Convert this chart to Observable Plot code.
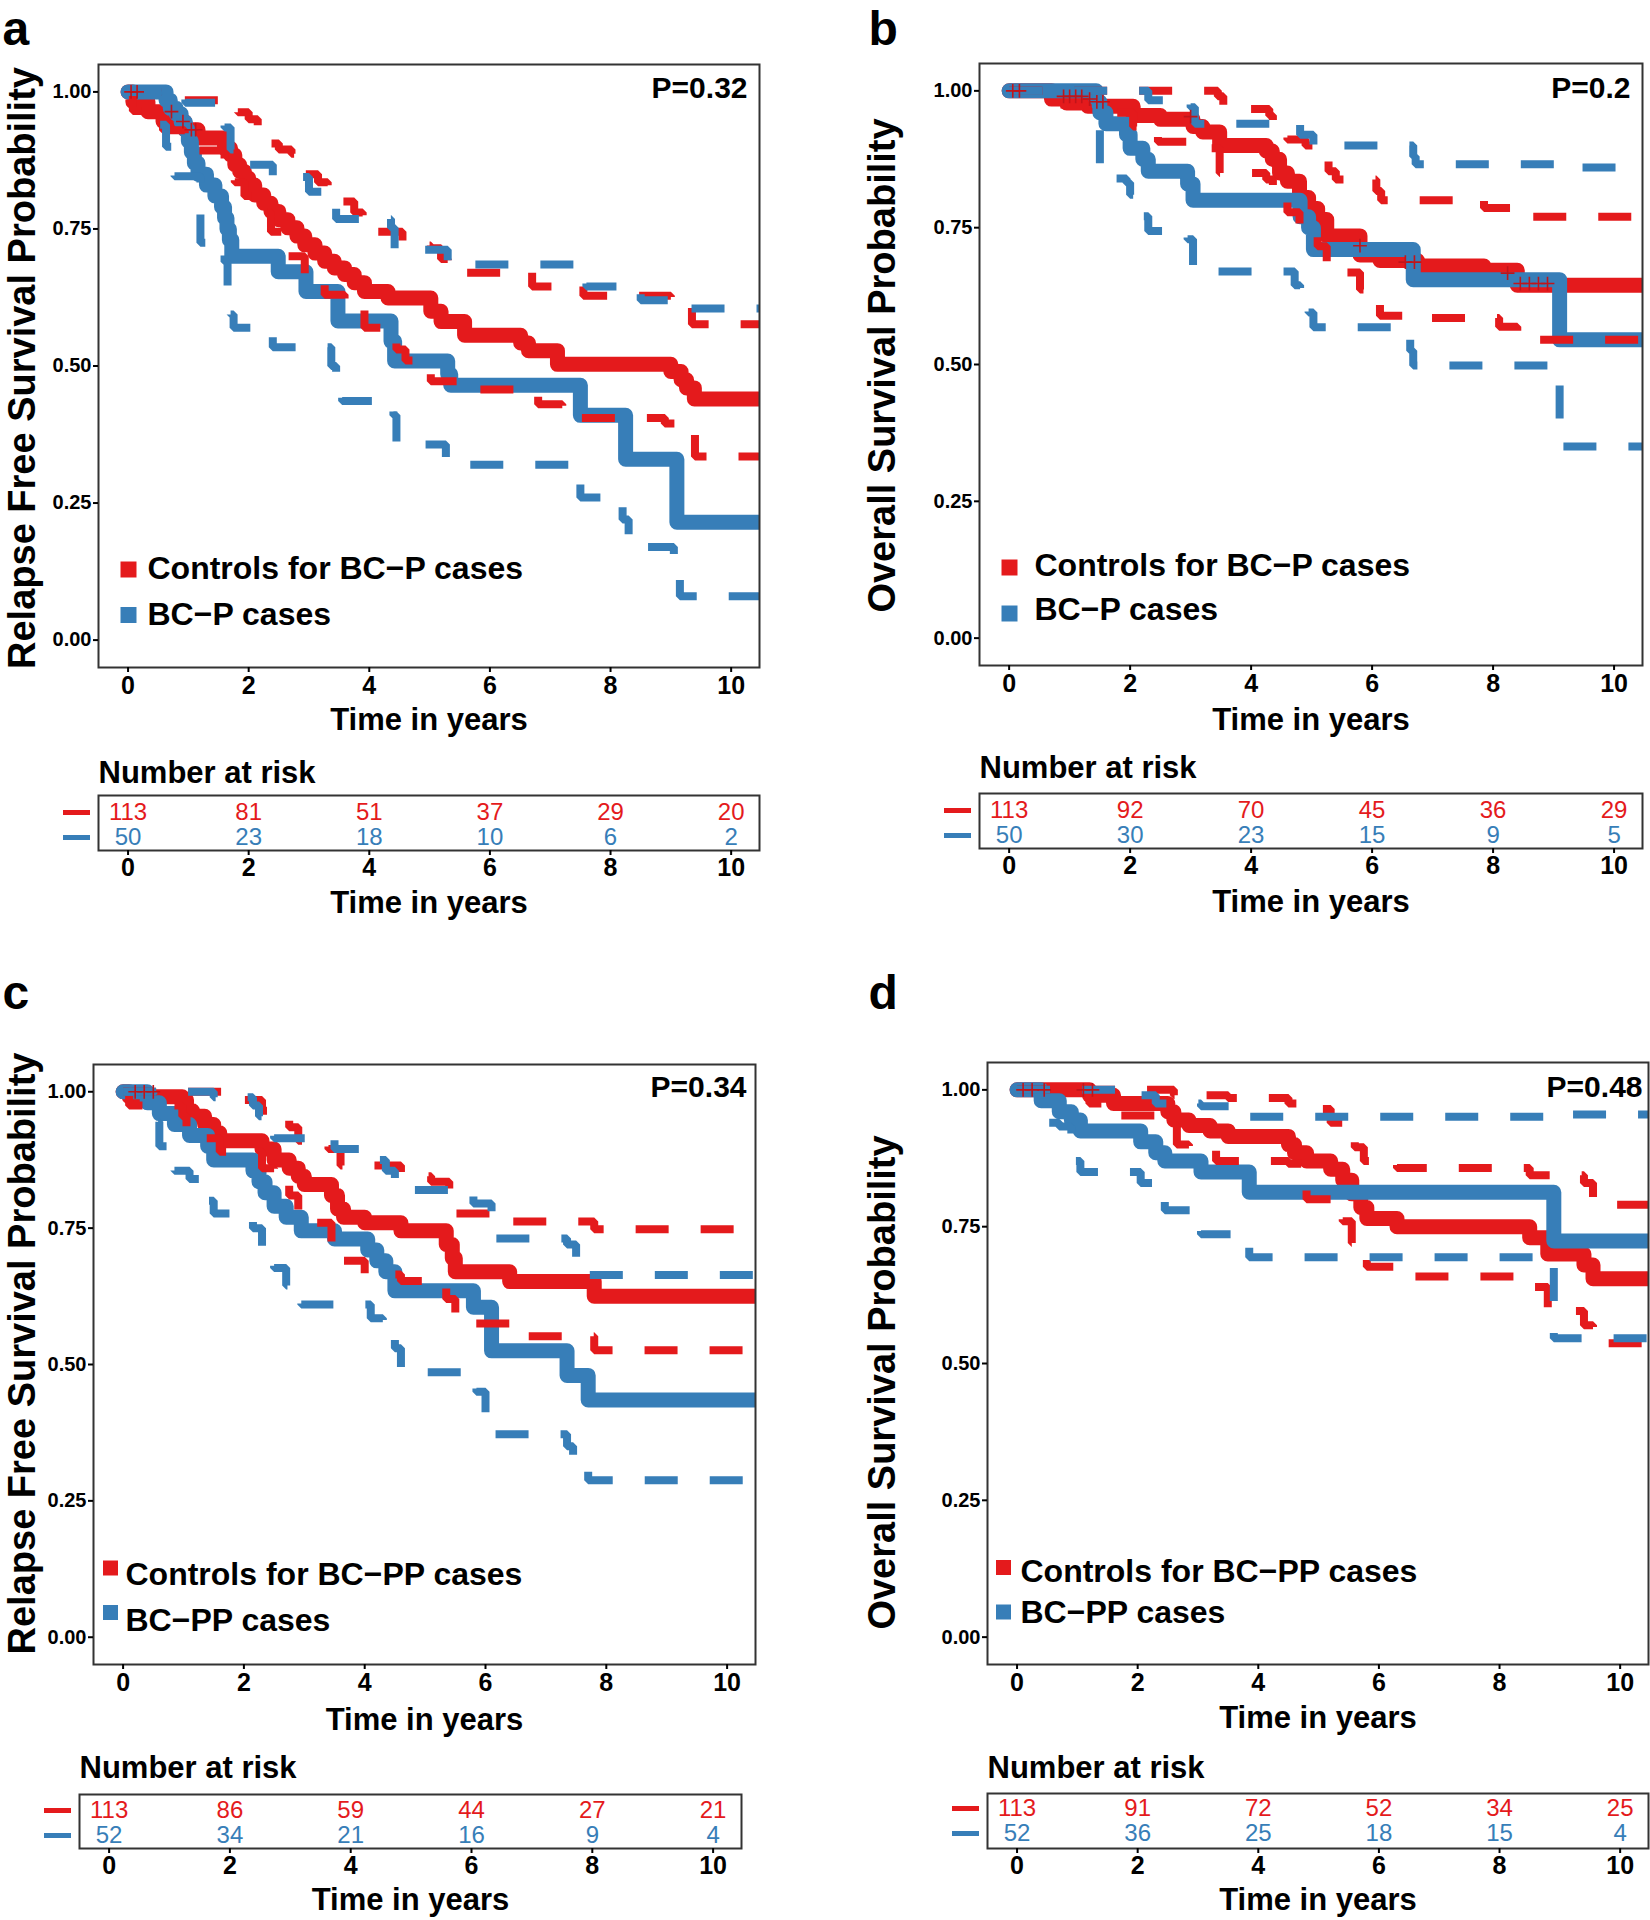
<!DOCTYPE html>
<html>
<head>
<meta charset="utf-8">
<script src="https://cdn.jsdelivr.net/npm/d3@7"></script>
<script src="https://cdn.jsdelivr.net/npm/@observablehq/plot@0.6"></script>
<style>
  body { margin: 0; background: #fff; }
  #root { position: relative; width: 1650px; height: 1920px; background: #fff; overflow: hidden; }
  #root > svg { position: absolute; }
</style>
</head>
<body>
<div id="root"></div>
<script>
// ---------------- DATA ----------------
const xTicks = [0, 2, 4, 6, 8, 10];
const yTicks = [0, 0.25, 0.5, 0.75, 1];
const riskTimes = [0, 2, 4, 6, 8, 10];

// Panel a: relapse-free survival, controls vs BC-P cases  [time, survival]
const aCtrlEst = [[0,1],[0.08,0.982],[0.33,0.964],[0.58,0.946],[0.94,0.931],[1.16,0.916],[1.6,0.897],[1.7,0.885],[1.77,0.867],[1.85,0.855],[1.93,0.843],[2.0,0.83],[2.1,0.812],[2.25,0.797],[2.37,0.782],[2.5,0.767],[2.65,0.752],[2.8,0.737],[2.93,0.721],[3.1,0.706],[3.26,0.691],[3.42,0.679],[3.59,0.667],[3.75,0.652],[3.92,0.636],[4.31,0.624],[5.02,0.6],[5.19,0.581],[5.58,0.556],[6.51,0.542],[6.64,0.528],[7.12,0.503],[9.0,0.49],[9.17,0.475],[9.26,0.46],[9.39,0.44],[10.6,0.44]];
const aCtrlHi  = [[0,1],[0.91,0.985],[1.82,0.963],[2.0,0.95],[2.15,0.939],[2.29,0.906],[2.5,0.895],[2.71,0.887],[2.93,0.85],[3.15,0.835],[3.31,0.82],[3.55,0.8],[3.75,0.78],[3.89,0.765],[4.11,0.745],[4.55,0.72],[5.02,0.715],[5.19,0.695],[5.3,0.68],[5.58,0.67],[6.7,0.645],[7.55,0.628],[9.0,0.62],[9.35,0.576],[10.6,0.576]];
const aCtrlLo  = [[0,1],[0.08,0.965],[0.33,0.95],[0.58,0.93],[0.94,0.91],[1.16,0.893],[1.6,0.865],[1.77,0.835],[1.93,0.81],[2.1,0.78],[2.37,0.745],[2.65,0.7],[2.93,0.665],[3.26,0.63],[3.59,0.605],[3.92,0.57],[4.31,0.545],[4.45,0.53],[4.6,0.51],[5.02,0.472],[5.58,0.457],[6.8,0.43],[7.2,0.405],[8.9,0.395],[9.2,0.377],[9.4,0.335],[10.6,0.335]];
const aCaseEst = [[0,1],[0.63,0.985],[0.7,0.97],[0.8,0.96],[0.88,0.945],[0.95,0.93],[1.0,0.91],[1.05,0.89],[1.1,0.87],[1.16,0.85],[1.3,0.83],[1.44,0.81],[1.55,0.79],[1.6,0.77],[1.64,0.75],[1.68,0.73],[1.72,0.7],[2.49,0.672],[2.95,0.636],[3.48,0.582],[4.36,0.545],[4.42,0.509],[5.3,0.485],[5.35,0.465],[7.5,0.41],[8.25,0.33],[9.1,0.215],[10.6,0.215]];
const aCaseHi  = [[0,1],[0.95,0.98],[1.6,0.935],[1.7,0.895],[2.0,0.867],[2.4,0.845],[3.0,0.818],[3.45,0.768],[4.36,0.752],[4.42,0.712],[5.3,0.685],[7.6,0.645],[8.5,0.62],[9.2,0.605],[10.6,0.605]];
const aCaseLo  = [[0,1],[0.5,0.94],[0.63,0.9],[0.77,0.846],[1.2,0.725],[1.6,0.69],[1.65,0.643],[1.7,0.594],[1.75,0.57],[2.4,0.534],[3.37,0.5],[3.45,0.475],[3.55,0.436],[4.4,0.41],[4.45,0.357],[5.27,0.32],[7.5,0.26],[8.2,0.22],[8.3,0.17],[9.05,0.15],[9.15,0.08],[10.6,0.08]];
const aCensor  = [[0.05,1],[0.15,1],[0.72,0.964],[0.91,0.946],[1.05,0.931],[1.12,0.931]];

// Panel b: overall survival, controls vs BC-P cases
const bCtrlEst = [[0,1],[0.7,0.985],[0.95,0.978],[1.3,0.972],[2.05,0.955],[2.5,0.948],[3.04,0.935],[3.2,0.925],[3.48,0.9],[4.25,0.89],[4.35,0.875],[4.47,0.85],[4.6,0.835],[4.8,0.805],[4.95,0.785],[5.1,0.765],[5.25,0.735],[5.8,0.7],[6.13,0.69],[6.75,0.68],[7.85,0.672],[8.4,0.645],[10.6,0.645]];
const bCtrlHi  = [[0,1],[3.45,0.99],[3.54,0.967],[4.3,0.955],[4.36,0.941],[4.6,0.911],[4.9,0.9],[5.03,0.893],[5.28,0.853],[5.4,0.838],[6.07,0.817],[6.15,0.8],[7.85,0.786],[8.4,0.77],[10.6,0.77]];
const bCtrlLo  = [[0,1],[0.7,0.975],[1.3,0.96],[2.05,0.935],[2.46,0.907],[3.2,0.895],[3.48,0.85],[4.25,0.838],[4.36,0.817],[4.6,0.778],[4.8,0.735],[5.1,0.716],[5.25,0.668],[5.8,0.637],[5.9,0.616],[6.13,0.589],[6.75,0.585],[8.1,0.569],[8.4,0.545],[10.6,0.545]];
const bCaseEst = [[0,1],[1.44,0.98],[1.5,0.96],[1.6,0.94],[1.94,0.92],[2.0,0.895],[2.21,0.875],[2.3,0.853],[2.95,0.83],[3.04,0.8],[4.81,0.77],[4.95,0.75],[5.03,0.71],[6.68,0.655],[9.1,0.545],[10.6,0.545]];
const bCaseHi  = [[0,1],[2.3,0.983],[3.0,0.97],[3.07,0.94],[4.81,0.92],[5.03,0.9],[6.68,0.88],[6.72,0.866],[9.1,0.86],[10.6,0.86]];
const bCaseLo  = [[0,1],[1.44,0.94],[1.5,0.865],[1.6,0.84],[1.94,0.832],[2.0,0.81],[2.21,0.771],[2.3,0.744],[2.95,0.729],[3.04,0.67],[4.72,0.645],[4.81,0.619],[4.95,0.595],[5.03,0.568],[6.63,0.525],[6.68,0.498],[9.1,0.4],[9.15,0.35],[10.6,0.35]];
const bCensor  = [[0.06,1],[0.17,1],[0.9,0.99],[1.0,0.99],[1.1,0.99],[1.2,0.99],[1.33,0.985],[1.45,0.98],[1.55,0.98],[3.0,0.953],[5.8,0.717],[6.55,0.687],[6.7,0.687],[8.24,0.667],[8.45,0.648],[8.6,0.648],[8.75,0.648],[8.9,0.648]];

// Panel c: relapse-free survival, controls vs BC-PP cases
const cCtrlEst = [[0,1],[0.1,0.991],[0.98,0.985],[1.05,0.965],[1.15,0.955],[1.35,0.94],[1.5,0.925],[1.6,0.91],[2.3,0.895],[2.5,0.875],[2.75,0.86],[2.9,0.845],[3.0,0.83],[3.45,0.81],[3.55,0.785],[3.65,0.77],[4.0,0.76],[4.6,0.745],[5.35,0.72],[5.45,0.695],[5.5,0.67],[6.4,0.652],[7.8,0.625],[10.6,0.625]];
const cCtrlHi  = [[0,1],[2.0,0.985],[2.3,0.965],[2.5,0.95],[2.75,0.935],[2.9,0.91],[3.4,0.895],[3.6,0.865],[4.6,0.845],[5.1,0.835],[5.4,0.81],[5.5,0.777],[6.4,0.762],[7.8,0.748],[10.6,0.748]];
const cCtrlLo  = [[0,1],[0.1,0.975],[0.98,0.955],[1.05,0.93],[1.35,0.915],[1.6,0.89],[2.3,0.86],[2.5,0.84],[2.75,0.81],[2.9,0.78],[3.0,0.76],[3.45,0.72],[3.55,0.69],[4.0,0.665],[4.6,0.653],[5.35,0.62],[5.5,0.575],[6.4,0.552],[7.8,0.526],[10.6,0.526]];
const cCaseEst = [[0,1],[0.4,0.98],[0.6,0.96],[0.85,0.94],[1.1,0.92],[1.4,0.9],[1.5,0.875],[2.15,0.855],[2.25,0.835],[2.35,0.815],[2.5,0.79],[2.7,0.77],[2.95,0.745],[3.5,0.73],[4.05,0.71],[4.2,0.69],[4.35,0.67],[4.5,0.635],[5.8,0.605],[6.1,0.525],[7.35,0.48],[7.7,0.435],[10.6,0.435]];
const cCaseHi  = [[0,1],[1.5,0.99],[2.15,0.975],[2.25,0.955],[2.5,0.915],[3.5,0.895],[4.2,0.875],[4.35,0.855],[4.5,0.82],[5.8,0.795],[6.1,0.731],[7.35,0.72],[7.5,0.695],[7.7,0.664],[10.6,0.664]];
const cCaseLo  = [[0,1],[0.5,0.945],[0.6,0.9],[0.85,0.855],[1.1,0.84],[1.4,0.8],[1.5,0.777],[2.15,0.75],[2.3,0.71],[2.5,0.677],[2.7,0.645],[2.95,0.61],[4.1,0.585],[4.3,0.564],[4.5,0.53],[4.6,0.486],[5.85,0.45],[6.0,0.405],[6.1,0.372],[7.35,0.35],[7.45,0.325],[7.7,0.288],[10.6,0.288]];
const cCensor  = [[0.2,1],[0.35,1],[0.5,1]];

// Panel d: overall survival, controls vs BC-PP cases
const dCtrlEst = [[0,1],[1.2,0.99],[1.6,0.975],[2.5,0.96],[2.6,0.945],[2.85,0.935],[3.2,0.925],[3.5,0.915],[4.5,0.9],[4.6,0.885],[4.8,0.87],[5.2,0.855],[5.4,0.835],[5.55,0.81],[5.7,0.785],[5.8,0.765],[6.3,0.75],[8.5,0.73],[8.8,0.7],[9.4,0.68],[9.55,0.655],[10.6,0.655]];
const dCtrlHi  = [[0,1],[2.6,0.99],[3.5,0.985],[4.5,0.975],[4.8,0.965],[5.2,0.94],[5.5,0.93],[5.6,0.895],[5.75,0.87],[6.3,0.857],[8.5,0.844],[9.4,0.83],[9.55,0.79],[10.6,0.79]];
const dCtrlLo  = [[0,1],[1.2,0.975],[1.6,0.953],[2.5,0.935],[2.65,0.9],[2.85,0.89],[3.3,0.87],[4.5,0.865],[4.75,0.845],[4.8,0.8],[5.4,0.76],[5.55,0.72],[5.8,0.677],[6.3,0.659],[8.5,0.64],[8.8,0.596],[9.4,0.57],[9.55,0.537],[10.6,0.537]];
const dCaseEst = [[0,1],[0.4,0.98],[0.7,0.96],[0.9,0.945],[1.05,0.925],[2.05,0.905],[2.3,0.885],[2.45,0.87],[3.05,0.85],[3.85,0.813],[8.9,0.724],[10.6,0.724]];
const dCaseHi  = [[0,1],[2.05,0.99],[2.3,0.975],[3.05,0.97],[3.85,0.951],[8.9,0.955],[10.6,0.955]];
const dCaseLo  = [[0,1],[0.4,0.94],[0.7,0.933],[0.9,0.87],[1.05,0.85],[2.05,0.83],[2.3,0.81],[2.45,0.78],[3.05,0.736],[3.85,0.694],[8.9,0.546],[10.6,0.546]];
const dCensor  = [[0.1,1],[0.25,1],[0.45,1],[1.1,1],[1.25,1]];

// Number at risk
const aRiskCtrl = [113, 81, 51, 37, 29, 20], aRiskCase = [50, 23, 18, 10, 6, 2];
const bRiskCtrl = [113, 92, 70, 45, 36, 29], bRiskCase = [50, 30, 23, 15, 9, 5];
const cRiskCtrl = [113, 86, 59, 44, 27, 21], cRiskCase = [52, 34, 21, 16, 9, 4];
const dRiskCtrl = [113, 91, 72, 52, 34, 25], dRiskCase = [52, 36, 25, 18, 15, 4];

// Labels
const groupsP  = ["Controls for BC\u2212P cases", "BC\u2212P cases"];
const groupsPP = ["Controls for BC\u2212PP cases", "BC\u2212PP cases"];
const pValues = ["P=0.32", "P=0.2", "P=0.34", "P=0.48"];
const yTitles = ["Relapse Free Survival Probability", "Overall Survival Probability", "Relapse Free Survival Probability", "Overall Survival Probability"];
const panelLetters = ["a", "b", "c", "d"];
const xTitle = "Time in years";
const riskTitle = "Number at risk";

// ---------------- STYLE / LAYOUT ----------------
const RED = "#E41A1C", BLUE = "#377EB8", CENSOR = "#C0141A";
const FONT = "'Liberation Sans', Arial, Helvetica, sans-serif";
const xDomain = [-0.49, 10.47];
const yDomain = [-0.05, 1.05];

const layout = [
  { left: 0,   top: 0,   w: 825, h: 750, mL: 98,  mR: 66, mT: 64,  mB: 83,
    yDx: -76, yDy: 2,  xDy: 53, pDx: -12, pDy: 12, letDx: -96, letDy: -20, letFs: 48,
    leg: [{sdx: 30, sdy: -98, tdx: 49, tdy: -99, s: 16}, {sdx: 30, sdy: -52.5, tdx: 49, tdy: -53, s: 16}],
    risk: { left: 0, top: 740, h: 180, mL: 98, mR: 66, mT: 55, mB: 70, iT: 17, iB: 13, tDy: -22, xDy: 53 } },
  { left: 825, top: 0,   w: 825, h: 750, mL: 154, mR: 8,  mT: 63,  mB: 85,
    yDx: -97, yDy: 1,  xDy: 55, pDx: -12, pDy: 13, letDx: -111, letDy: -19, letFs: 48,
    leg: [{sdx: 30, sdy: -98, tdx: 55, tdy: -100, s: 16}, {sdx: 30, sdy: -52, tdx: 55, tdy: -56, s: 16}],
    risk: { left: 825, top: 740, h: 180, mL: 154, mR: 8, mT: 53, mB: 72, iT: 17, iB: 13, tDy: -25, xDy: 54 } },
  { left: 0,   top: 960, w: 825, h: 790, mL: 93,  mR: 70, mT: 104, mB: 86,
    yDx: -71, yDy: -11, xDy: 56, pDx: -9, pDy: 11, letDx: -91, letDy: -56, letFs: 48,
    leg: [{sdx: 17, sdy: -96.5, tdx: 32, tdy: -89.5, s: 15}, {sdx: 17, sdy: -52, tdx: 32, tdy: -43.5, s: 15}],
    risk: { left: 0, top: 1740, h: 180, mL: 79, mR: 84, mT: 54, mB: 72, iT: 16, iB: 13, tDy: -26, xDy: 52 } },
  { left: 825, top: 960, w: 825, h: 790, mL: 162, mR: 2,  mT: 102, mB: 86,
    yDx: -105, yDy: 19, xDy: 54, pDx: -6, pDy: 13, letDx: -119, letDy: -54, letFs: 48,
    leg: [{sdx: 16, sdy: -97, tdx: 33, tdy: -93, s: 15}, {sdx: 16, sdy: -52.5, tdx: 33, tdy: -51.5, s: 15}],
    risk: { left: 825, top: 1740, h: 180, mL: 162, mR: 2, mT: 53, mB: 72, iT: 15, iB: 15, tDy: -25.5, xDy: 52 } }
];

const panelData = [
  { ctrl: [aCtrlEst, aCtrlLo, aCtrlHi], kase: [aCaseEst, aCaseLo, aCaseHi], censor: aCensor, groups: groupsP,  riskCtrl: aRiskCtrl, riskCase: aRiskCase },
  { ctrl: [bCtrlEst, bCtrlLo, bCtrlHi], kase: [bCaseEst, bCaseLo, bCaseHi], censor: bCensor, groups: groupsP,  riskCtrl: bRiskCtrl, riskCase: bRiskCase },
  { ctrl: [cCtrlEst, cCtrlLo, cCtrlHi], kase: [cCaseEst, cCaseLo, cCaseHi], censor: cCensor, groups: groupsPP, riskCtrl: cRiskCtrl, riskCase: cRiskCase },
  { ctrl: [dCtrlEst, dCtrlLo, dCtrlHi], kase: [dCaseEst, dCaseLo, dCaseHi], censor: dCensor, groups: groupsPP, riskCtrl: dRiskCtrl, riskCase: dRiskCase }
];

const squareSymbol = (s) => ({ draw(ctx) { ctx.rect(-s / 2, -s / 2, s, s); } });
const barSymbol = { draw(ctx) { ctx.rect(-13.5, -2.5, 27, 5); } };

const root = document.getElementById("root");
function place(svg, left, top) {
  svg.style.left = left + "px";
  svg.style.top = top + "px";
  root.appendChild(svg);
}

const xy = { x: d => d[0], y: d => d[1] };
const solid = { curve: "step-after", strokeWidth: 15, strokeLinejoin: "round", strokeLinecap: "round", clip: true };
const dashed = { curve: "step-after", strokeWidth: 8, strokeDasharray: "33,32", strokeLinecap: "butt", strokeLinejoin: "miter", clip: true };
const bold = { fontWeight: "bold", fill: "#000" };

layout.forEach((L, i) => {
  const D = panelData[i];
  const colors = [RED, BLUE];
  const km = Plot.plot({
    width: L.w, height: L.h,
    marginLeft: L.mL, marginRight: L.mR, marginTop: L.mT, marginBottom: L.mB,
    x: { domain: xDomain, axis: null },
    y: { domain: yDomain, axis: null },
    style: { fontFamily: FONT, color: "#000", background: "transparent", overflow: "visible" },
    marks: [
      Plot.line(D.ctrl[0], { ...xy, ...solid, stroke: RED }),
      Plot.line(D.kase[0], { ...xy, ...solid, stroke: BLUE }),
      Plot.line(D.ctrl[1], { ...xy, ...dashed, stroke: RED }),
      Plot.line(D.ctrl[2], { ...xy, ...dashed, stroke: RED }),
      Plot.line(D.kase[1], { ...xy, ...dashed, stroke: BLUE }),
      Plot.line(D.kase[2], { ...xy, ...dashed, stroke: BLUE }),
      Plot.dot(D.censor, { ...xy, symbol: "plus", r: 4.5, stroke: CENSOR, strokeWidth: 1.6, fill: "none" }),
      Plot.frame({ stroke: "#333", strokeWidth: 2 }),
      Plot.axisX({ ticks: xTicks, tickSize: 5, tickPadding: 4, fontSize: 25, fontWeight: "bold", strokeWidth: 2, label: null }),
      Plot.axisY({ ticks: yTicks, tickFormat: d3.format(".2f"), tickSize: 5, tickPadding: 2, fontSize: 20, fontWeight: "bold", strokeWidth: 2, label: null }),
      Plot.text([xTitle], { text: d => d, frameAnchor: "bottom", textAnchor: "middle", lineAnchor: "middle", dy: L.xDy, fontSize: 31, ...bold }),
      Plot.text([yTitles[i]], { text: d => d, frameAnchor: "left", textAnchor: "middle", lineAnchor: "middle", rotate: -90, dx: L.yDx, dy: L.yDy, fontSize: 38, ...bold }),
      Plot.text([pValues[i]], { text: d => d, frameAnchor: "top-right", textAnchor: "end", lineAnchor: "top", dx: L.pDx, dy: L.pDy, fontSize: 30, ...bold }),
      Plot.text([panelLetters[i]], { text: d => d, frameAnchor: "top-left", textAnchor: "start", lineAnchor: "bottom", dx: L.letDx, dy: L.letDy, fontSize: L.letFs, ...bold }),
      ...D.groups.flatMap((g, k) => [
        Plot.dot([g], { frameAnchor: "bottom-left", dx: L.leg[k].sdx, dy: L.leg[k].sdy, symbol: squareSymbol(L.leg[k].s), fill: colors[k], stroke: null, r: 5 }),
        Plot.text([g], { text: d => d, frameAnchor: "bottom-left", textAnchor: "start", lineAnchor: "middle", dx: L.leg[k].tdx, dy: L.leg[k].tdy, fontSize: 32, ...bold })
      ])
    ]
  });
  place(km, L.left, L.top);

  // Risk table
  const R = L.risk;
  const rows = [];
  riskTimes.forEach((t, j) => {
    rows.push({ t, g: "ctrl", n: D.riskCtrl[j] });
    rows.push({ t, g: "case", n: D.riskCase[j] });
  });
  const strata = [{ g: "ctrl", c: RED }, { g: "case", c: BLUE }];
  const risk = Plot.plot({
    width: L.w, height: R.h,
    marginLeft: R.mL, marginRight: R.mR, marginTop: R.mT, marginBottom: R.mB,
    x: { domain: xDomain, axis: null },
    y: { type: "point", domain: ["ctrl", "case"], padding: 0, insetTop: R.iT, insetBottom: R.iB, axis: null },
    style: { fontFamily: FONT, color: "#000", background: "transparent", overflow: "visible" },
    marks: [
      Plot.frame({ stroke: "#333", strokeWidth: 2 }),
      Plot.text(rows, { x: "t", y: "g", text: d => String(d.n), fill: d => (d.g === "ctrl" ? RED : BLUE), fontSize: 24, lineAnchor: "middle" }),
      Plot.dot(strata, { y: "g", frameAnchor: "left", dx: -22, symbol: barSymbol, fill: d => d.c, stroke: null, r: 5 }),
      Plot.axisX({ ticks: xTicks, tickSize: 5, tickPadding: 3, fontSize: 25, fontWeight: "bold", strokeWidth: 2, label: null }),
      Plot.text([xTitle], { text: d => d, frameAnchor: "bottom", textAnchor: "middle", lineAnchor: "middle", dy: R.xDy, fontSize: 31, ...bold }),
      Plot.text([riskTitle], { text: d => d, frameAnchor: "top-left", textAnchor: "start", lineAnchor: "middle", dy: R.tDy, fontSize: 31, ...bold })
    ]
  });
  place(risk, R.left, R.top);
});
</script>
</body>
</html>
